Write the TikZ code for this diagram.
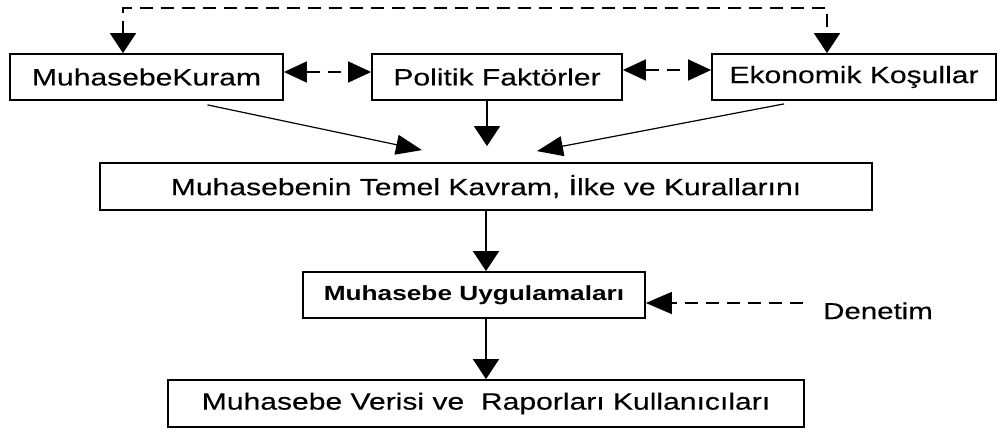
\documentclass[tikz,border=0pt]{standalone}
\usepackage{fontspec}
\setmainfont{Liberation Sans}[FakeBold=0.25,BoldFeatures={FakeBold=0}]
\usepackage{graphicx}
\usetikzlibrary{arrows.meta,calc}

% wide Arial-like lettering used throughout the chart
\newcommand{\widetext}[1]{\scalebox{1.28}[1]{#1}}

\tikzset{
  box/.style={draw, line width=1.8pt, inner sep=0pt, align=center,
    font=\fontsize{23.5}{28}\selectfont},
  boldbox/.style={box, font=\fontsize{20.5}{24}\selectfont\bfseries},
  flow/.style={line width=1.6pt},
  slant/.style={line width=1.2pt},
  dashline/.style={line width=1.6pt, dash pattern=on 13pt off 8pt},
  vtip/.style={-{Triangle[length=20pt,width=26pt]}},
  htip/.style={{Triangle[length=23pt,width=21pt]}-{Triangle[length=23pt,width=21pt]}},
}

\begin{document}
\begin{tikzpicture}[x=1pt,y=-1pt]
  \useasboundingbox[fill=white] (0,0) rectangle (998,431);

  % top row of influences
  \node[box, minimum width=273pt, minimum height=46pt] (kuram) at (146.5,77) {\widetext{MuhasebeKuram}};
  \node[box, minimum width=250pt, minimum height=46pt] (politik) at (497,77) {\widetext{Politik Faktörler}};
  \node[box, minimum width=284pt, minimum height=46pt] (ekonomik) at (854,77) {\widetext{Ekonomik Koşullar}};

  % main chain
  \node[box, minimum width=772pt, minimum height=47pt] (temel) at (486,186.5) {\widetext{Muhasebenin Temel Kavram, İlke ve Kurallarını}};
  \node[boldbox, minimum width=342pt, minimum height=46pt] (uygulama) at (474,295) {\widetext{Muhasebe Uygulamaları}};
  \node[box, minimum width=636pt, minimum height=47pt] (kullanici) at (486,403.5) {\widetext{Muhasebe Verisi ve\ \ Raporları Kullanıcıları}};

  % audit label
  \node[inner sep=0pt, anchor=base west, font=\fontsize{23}{28}\selectfont] (denetim) at (823,319) {\widetext{Denetim}};

  % bend points of the dashed links
  \coordinate (tl) at (123,8);
  \coordinate (tr) at (827,8);
  \coordinate (dstart) at (803,303);

  % dashed link over the top row
  \draw[dashline, {Triangle[length=20pt,width=26pt]}-{Triangle[length=20pt,width=26pt]}]
    (tl |- kuram.north) -- (tl) -- (tr) -- (tr |- ekonomik.north);

  % dashed two-way links inside the top row
  \draw[dashline, htip] ([yshift=5pt]kuram.east) -- ([yshift=5pt]kuram.east -| politik.west);
  \draw[dashline, htip] ([yshift=7pt]politik.east) -- ([yshift=7pt]politik.east -| ekonomik.west);

  % influences into the basic concepts
  \draw[slant, -{Triangle[length=26pt,width=20pt]}] ([xshift=61pt,yshift=-4pt]kuram.south) -- ([xshift=-64pt,yshift=12pt]temel.north);
  \draw[flow, vtip] ([xshift=-10pt]politik.south) -- ([xshift=1pt,yshift=16pt]temel.north);
  \draw[slant, -{Triangle[length=26pt,width=20pt]}] ([xshift=-70pt,yshift=-3pt]ekonomik.south) -- ([xshift=51pt,yshift=11pt]temel.north);

  % main chain arrows
  \draw[flow, vtip] (temel.south) -- (temel.south |- uygulama.north);
  \draw[flow, vtip] (uygulama.south -| kullanici.north) -- (kullanici.north);

  % audit feeding the practice
  \draw[dashline, -{Triangle[length=26pt,width=22pt]}] (dstart) -- (dstart -| uygulama.east);
\end{tikzpicture}
\end{document}
